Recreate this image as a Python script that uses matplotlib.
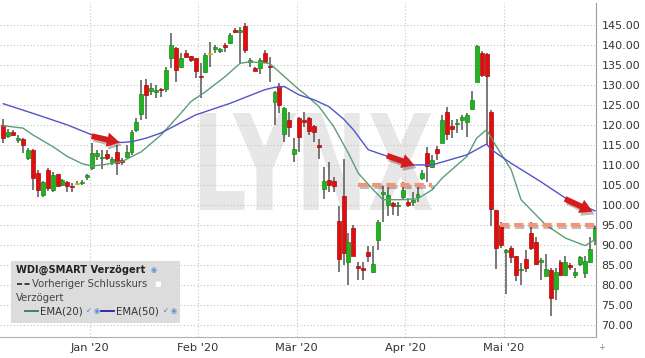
import numpy as np
import pandas as pd
import matplotlib
matplotlib.use('Agg')
import matplotlib.pyplot as plt
from matplotlib.patches import Rectangle, PathPatch
from matplotlib.textpath import TextPath
from matplotlib.font_manager import FontProperties
from matplotlib.transforms import Affine2D
import matplotlib.patheffects as pe

# daily candles, WDI@SMART, Dec 2019 - May 2020
opens = [120.0, 117.2, 118.3, 116.3, 116.6, 111.7, 113.7, 107.9, 102.5, 108.7,
         103.7, 107.7, 105.0, 105.8, 104.8, 105.2, 105.4, 106.9, 109.2, 112.3,
         111.7, 112.7, 110.8, 113.3, 111.2, 112.1, 113.3, 118.7, 122.7, 130.0,
         128.6, 128.3, 129.0, 128.9, 136.7, 139.2, 134.6, 137.9, 137.2, 136.7,
         132.2, 133.3, 137.7, 139.0, 138.6, 140.0, 140.4, 143.6, 143.3, 144.7,
         135.8, 134.2, 134.2, 137.9, 134.7, 125.8, 129.7, 117.7, 121.2, 112.7,
         121.8, 121.2, 121.8, 119.7, 114.9, 104.0, 106.2, 106.0, 96.0, 102.2,
         85.8, 94.2, 84.6, 84.2, 88.1, 83.1, 91.1, 102.7, 100.0, 100.4,
         99.6, 101.9, 100.8, 100.6, 101.9, 106.7, 113.1, 109.6, 113.9, 115.6,
         123.3, 119.8, 120.2, 121.2, 120.8, 123.9, 130.8, 138.1, 137.7, 123.3,
         98.7, 95.0, 88.1, 89.2, 87.1, 83.6, 86.5, 92.9, 90.6, 85.8,
         82.2, 83.7, 78.9, 85.6, 82.5, 85.0, 82.5, 85.2, 82.9, 85.6, 91.1]
highs = [121.4, 118.9, 118.7, 117.5, 116.8, 114.2, 113.9, 108.7, 105.9, 109.2,
         108.1, 107.8, 106.4, 106.0, 105.4, 105.9, 106.2, 107.7, 115.4, 113.7,
         113.7, 113.7, 112.1, 115.0, 111.7, 115.0, 118.7, 121.7, 131.2, 131.4,
         130.4, 130.0, 129.3, 134.4, 142.9, 139.6, 137.9, 138.7, 137.3, 136.8,
         135.4, 137.9, 140.8, 140.0, 139.2, 140.4, 142.9, 144.2, 144.6, 145.4,
         136.7, 134.6, 136.7, 138.7, 137.1, 128.5, 130.4, 124.6, 123.3, 116.7,
         122.1, 123.3, 122.0, 120.0, 116.4, 109.4, 110.8, 106.9, 99.6, 111.4,
         92.9, 95.0, 85.8, 85.6, 89.7, 89.7, 96.1, 104.6, 104.6, 100.8,
         100.8, 105.8, 101.7, 103.1, 104.4, 108.6, 114.6, 112.5, 114.7, 122.5,
         124.4, 121.2, 121.4, 122.5, 122.9, 128.5, 140.0, 138.6, 138.1, 123.7,
         98.7, 95.6, 89.0, 89.6, 87.2, 85.4, 88.7, 95.6, 91.9, 86.7,
         87.7, 84.2, 84.2, 86.2, 87.1, 85.4, 84.2, 87.1, 87.2, 91.9, 94.6]
lows = [115.4, 116.7, 117.2, 115.6, 113.1, 111.2, 103.7, 101.9, 101.9, 103.4,
        103.3, 104.6, 104.6, 103.3, 103.3, 104.9, 105.0, 106.2, 108.7, 111.2,
        108.9, 111.2, 110.0, 107.5, 110.0, 111.8, 112.5, 118.3, 121.2, 121.4,
        127.5, 126.7, 126.9, 128.3, 134.2, 130.8, 134.2, 136.7, 135.8, 131.7,
        126.7, 132.9, 134.6, 137.9, 137.9, 138.2, 140.2, 142.9, 135.4, 137.9,
        134.4, 133.5, 132.7, 135.4, 130.8, 120.0, 122.9, 115.8, 117.1, 110.8,
        113.3, 119.6, 117.5, 115.8, 111.4, 101.4, 103.3, 103.3, 83.3, 85.0,
        80.0, 87.1, 81.1, 81.1, 85.8, 82.9, 88.7, 95.8, 97.1, 97.5,
        97.1, 101.2, 99.4, 99.6, 100.8, 106.1, 105.8, 109.2, 111.2, 115.4,
        116.2, 116.7, 117.9, 118.7, 116.9, 123.7, 130.8, 132.1, 115.0, 94.6,
        84.0, 89.2, 77.7, 85.4, 81.0, 80.0, 83.1, 88.7, 85.0, 81.1,
        82.1, 72.1, 76.2, 82.1, 82.1, 83.6, 81.7, 84.7, 81.7, 85.4, 90.0]
closes = [116.8, 118.3, 117.5, 116.6, 115.0, 113.7, 106.7, 103.7, 105.6, 104.2,
          107.5, 104.7, 106.1, 104.7, 104.4, 105.2, 105.8, 107.5, 112.9, 112.9,
          112.1, 111.7, 111.4, 110.4, 110.8, 113.3, 118.3, 120.8, 127.7, 127.5,
          129.2, 128.7, 128.7, 133.7, 140.0, 133.7, 136.7, 137.1, 136.2, 133.6,
          131.9, 137.5, 137.7, 139.4, 139.0, 139.6, 142.5, 143.3, 143.6, 138.7,
          136.2, 133.6, 136.2, 135.8, 134.5, 128.3, 125.0, 124.2, 119.4, 114.0,
          116.9, 120.7, 118.6, 118.2, 114.6, 106.0, 105.0, 104.6, 86.4, 87.9,
          90.6, 87.2, 84.1, 83.7, 87.1, 85.2, 95.8, 103.1, 102.5, 99.7,
          100.0, 103.6, 100.0, 101.2, 102.7, 107.9, 109.7, 111.2, 113.1, 121.2,
          117.7, 119.0, 120.6, 121.9, 122.5, 126.2, 139.7, 132.5, 132.2, 98.9,
          89.2, 90.0, 88.7, 86.9, 82.5, 83.9, 84.2, 89.2, 85.2, 86.2,
          83.9, 76.7, 83.1, 82.5, 85.8, 84.4, 83.3, 86.9, 86.0, 88.9, 94.2]

# EMA readings (candle index, value)
ema20_idx = [0, 4, 6, 10, 13, 16, 18, 20, 24, 28, 32, 36, 38, 41, 45, 48, 50, 54, 57,
             60, 61, 64, 67, 70, 72, 75, 77, 81, 84, 87, 89, 94, 96, 98, 100, 103,
             105, 110, 114, 118, 120]
ema20_val = [119.8, 119.2, 117.5, 114.6, 112.1, 110.3, 109.7, 110.0, 110.8, 113.3, 117.5,
             122.9, 125.8, 128.3, 132.1, 135.4, 135.8, 135.4, 132.1, 128.8, 127.9,
             124.6, 119.6, 112.9, 107.9, 103.8, 101.3, 101.3, 101.5, 103.8, 106.7,
             112.1, 116.7, 118.8, 114.6, 108.8, 101.3, 95.0, 91.7, 89.8, 91.3]
ema50_idx = [0, 6, 13, 18, 22, 24, 26, 29, 32, 39, 46, 53, 55, 57, 60, 63, 66, 69, 71,
             74, 78, 82, 87, 94, 98, 99, 103, 109, 114, 120]
ema50_val = [125.3, 122.9, 120.0, 117.5, 116.0, 115.6, 115.8, 116.7, 118.0, 122.5, 125.4,
             128.8, 129.4, 129.6, 127.5, 126.3, 124.6, 121.5, 118.8, 113.8, 112.1,
             110.0, 110.0, 112.5, 115.2, 113.8, 110.4, 105.8, 101.7, 98.5]

# annotations: arrows (start idx, start val, end idx, end val) and dashed levels
arrows = [(17.9, 117.2, 23.6, 115.6), (77.8, 112.3, 83.4, 109.9), (113.9, 101.5, 119.5, 98.3)]
levels = [(72.0, 87.0, 105.0), (100.7, 120.3, 95.0)]

month_names = {1: "Jan '20", 2: "Feb '20", 3: "Mär '20", 4: "Apr '20", 5: "Mai '20"}
holidays = ['2019-12-24', '2019-12-25', '2019-12-26', '2019-12-31', '2020-01-01',
            '2020-04-10', '2020-04-13', '2020-05-01']

days = pd.bdate_range('2019-12-02', '2020-06-30')
days = days[~days.isin(pd.to_datetime(holidays))][:len(closes)]

W, H = 645, 358
fig = plt.figure(figsize=(W / 100, H / 100), dpi=100)
ax = fig.add_axes([0, 21 / H, 596 / W, (337 - 3) / H])

x = np.arange(len(closes))
o = np.array(opens); c = np.array(closes)
hi = np.array(highs); lo = np.array(lows)
col = np.where(c > o, '#1fb41f', np.where(c < o, '#e00f0f', '#ecec10'))
edge = np.where(c > o, '#178a17', np.where(c < o, '#a80a0a', '#b8b810'))

ax.vlines(x, lo, hi, color='#555555', lw=1.1, zorder=2)
bot = np.minimum(o, c)
hgt = np.maximum(np.abs(c - o), 0.35)
ax.bar(x, hgt, bottom=bot, width=0.8, color=col, edgecolor=edge, lw=0.5, zorder=3)

ax.plot(ema20_idx, ema20_val, color='#5a9e78', lw=1.0, zorder=4)
ax.plot(ema50_idx, ema50_val, color='#5454c8', lw=1.0, zorder=4)

for x0, x1, lv in levels:
    ax.plot([x0, x1], [lv, lv], color='#f39479', lw=3, ls=(0, (2.2, 1.2)), zorder=5,
            solid_capstyle='butt',
            path_effects=[pe.SimpleLineShadow(offset=(1, -1.5), alpha=0.25), pe.Normal()])

for xa, ya, xb, yb in arrows:
    ax.annotate('', xy=(xb, yb), xytext=(xa, ya), zorder=6,
                arrowprops=dict(arrowstyle='simple,head_length=0.7,head_width=0.8,tail_width=0.32',
                                fc='#d41c1c', ec='none', mutation_scale=13, shrinkA=0, shrinkB=0,
                                path_effects=[pe.SimplePatchShadow(offset=(1.5, -2), alpha=0.3), pe.Normal()]))

# LYNX watermark squeezed into its box
tp = TextPath((0, 0), 'LYNX', size=100, prop=FontProperties(family='DejaVu Sans', weight='bold'))
ext = tp.get_extents()
bx0, bx1, by0, by1 = 200, 432, H - 210, H - 113
tr = Affine2D().translate(-ext.x0, -ext.y0).scale((bx1 - bx0) / ext.width, (by1 - by0) / ext.height).translate(bx0, by0)
wm = PathPatch(tp, transform=tr, fc='#e7e7e7', ec='none', zorder=0.2)
ax.add_artist(wm)

ax.set_xlim(-0.67, 120.2)
ax.set_ylim(66.95, 150.5)
yt = np.arange(70, 146, 5)
ax.set_yticks(yt)
ax.set_yticklabels(['%.2f' % v for v in yt])
ax.yaxis.tick_right()

mpos = []; mlab = []
for i in range(1, len(days)):
    if days[i].month != days[i - 1].month:
        mpos.append(i - 0.5); mlab.append(month_names[days[i].month])
ax.set_xticks(mpos)
ax.set_xticklabels(mlab)
ax.tick_params(axis='y', length=0, pad=4, labelsize=8, labelcolor='#333333')
ax.tick_params(axis='x', length=0, pad=4, labelsize=8.2, labelcolor='#333333')

ax.set_axisbelow(True)
ax.grid(True, color='#c4c4c4', lw=0.8, ls=(0, (1, 2)))
for s in ['top', 'left']:
    ax.spines[s].set_visible(False)
ax.spines['right'].set_color('#9a9a9a')
ax.spines['bottom'].set_color('#b0b0b0')

# legend box
def fp(px, py):
    return px / W, 1 - py / H

fig.add_artist(Rectangle(fp(11, 323), 169 / W, 62 / H, transform=fig.transFigure,
                         fc='#dcdcdc', ec='none', zorder=10))
tk = dict(transform=fig.transFigure, va='center', zorder=11)
fig.text(*fp(16, 270), 'WDI@SMART Verzögert', fontsize=7.1, weight='bold', color='#222222', **tk)
fig.text(*fp(151, 270), '◉', fontsize=5, color='#5b8fd0', **tk)
fig.add_artist(plt.Line2D([17 / W, 30 / W], [1 - 284 / H] * 2, color='#222222', lw=1.2,
                          ls=(0, (3, 1.5)), transform=fig.transFigure, zorder=11))
fig.text(*fp(32, 284), 'Vorheriger Schlusskurs', fontsize=7.3, color='#444444', **tk)
fig.text(*fp(154, 284), '■', fontsize=5, color='#ffffff', **tk)
fig.text(*fp(16, 298), 'Verzögert', fontsize=7.3, color='#444444', **tk)
fig.add_artist(plt.Line2D([25 / W, 38 / W], [1 - 311 / H] * 2, color='#2e7d4f', lw=1.3, transform=fig.transFigure, zorder=11))
fig.text(*fp(40, 311), 'EMA(20)', fontsize=7.3, color='#333333', **tk)
fig.text(*fp(86, 311), '✓', fontsize=5, color='#3a6fc8', **tk)
fig.text(*fp(94, 311), '◉', fontsize=5, color='#5b8fd0', **tk)
fig.add_artist(plt.Line2D([101 / W, 114 / W], [1 - 311 / H] * 2, color='#2020a0', lw=1.3, transform=fig.transFigure, zorder=11))
fig.text(*fp(116, 311), 'EMA(50)', fontsize=7.3, color='#333333', **tk)
fig.text(*fp(163, 311), '✓', fontsize=5, color='#3a6fc8', **tk)
fig.text(*fp(171, 311), '◉', fontsize=5, color='#5b8fd0', **tk)

fig.text(*fp(598, 347), '+', fontsize=6, color='#888888', **tk)

fig.savefig('out.png', dpi=100)
